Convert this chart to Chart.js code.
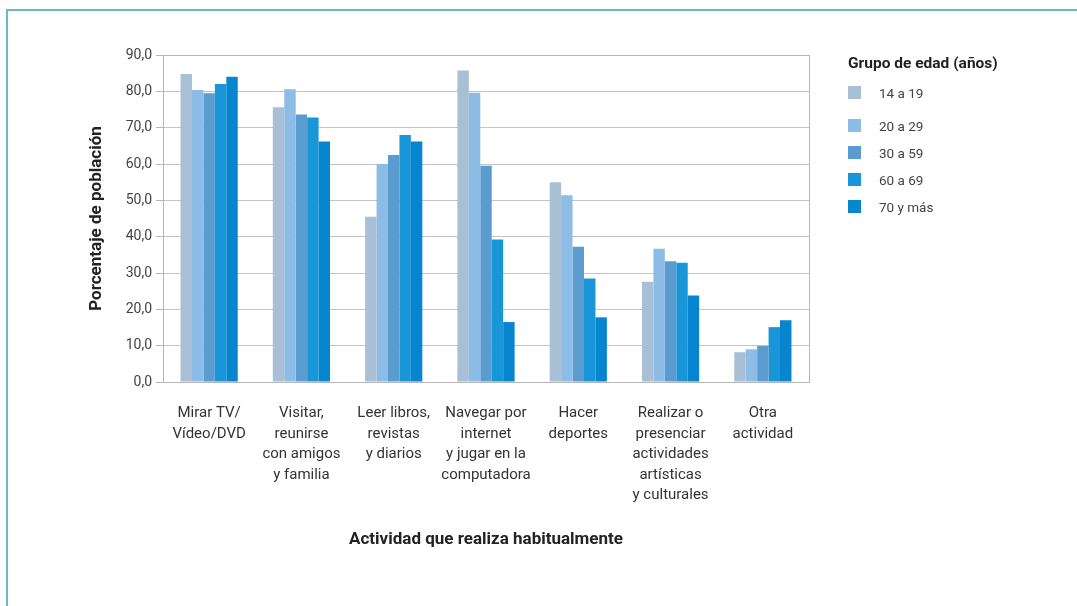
<!DOCTYPE html>
<html>
<head>
<meta charset="utf-8">
<script src="https://cdn.jsdelivr.net/npm/chart.js@4.4.1/dist/chart.umd.min.js"></script>
<style>
  html, body { margin: 0; padding: 0; background: #fff; }
  #wrap { position: relative; width: 1077px; height: 606px; overflow: hidden; }
  #frame { position: absolute; left: 6px; top: 9px; right: -10px; bottom: -10px;
           border-top: 2px solid #6cb9c5; border-left: 2px solid #6cb9c5; }
  #chart { position: absolute; left: 0; top: 0; }
  #legend { position: absolute; left: 848px; top: 54px; font-family: Roboto, sans-serif; }
  #legend .title { font-weight: bold; font-size: 15.5px; color: #222; margin-bottom: 14px; }
  #legend .item { display: flex; align-items: center; height: 13px; margin-bottom: 14px;
                  font-size: 13.5px; color: #444; }
  #legend .box { width: 13px; height: 13px; margin-right: 18px; }
</style>
</head>
<body>
<div id="wrap">
  <div id="frame"></div>
  <canvas id="chart" width="1077" height="606"></canvas>
  <div id="legend"></div>
</div>
<script>
document.addEventListener("DOMContentLoaded", () => {

    // ========= Datos =========

    const categorias = [
        ["Mirar TV/", "Vídeo/DVD"],
        ["Visitar,", "reunirse", "con amigos", "y familia"],
        ["Leer libros,", "revistas", "y diarios"],
        ["Navegar por", "internet", "y jugar en la", "computadora"],
        ["Hacer", "deportes"],
        ["Realizar o", "presenciar", "actividades", "artísticas", "y culturales"],
        ["Otra", "actividad"]
    ];

    const grupos = ["14 a 19", "20 a 29", "30 a 59", "60 a 69", "70 y más"];
    const colores = ["#a9bfd6", "#8dbde6", "#5a9ccf", "#1896d7", "#0786cf"];

    const edad14a19 = [84.8, 75.6, 45.5, 85.7, 55.0, 27.6, 8.2];
    const edad20a29 = [80.4, 80.6, 60.0, 79.6, 51.4, 36.7, 9.0];
    const edad30a59 = [79.5, 73.6, 62.5, 59.5, 37.2, 33.2, 9.9];
    const edad60a69 = [82.0, 72.8, 68.0, 39.2, 28.5, 32.8, 15.1];
    const edad70ymas = [84.0, 66.2, 66.2, 16.5, 17.8, 23.8, 17.0];

    const series = [edad14a19, edad20a29, edad30a59, edad60a69, edad70ymas];

    const ticksY = [0, 10, 20, 30, 40, 50, 60, 70, 80, 90];

    // ========= Leyenda =========

    const legend = document.getElementById("legend");
    let html = '<div class="title">Grupo de edad (años)</div>';
    grupos.forEach((g, i) => {
        const extra = i === 0 ? ' style="margin-bottom:20px"' : '';
        html += '<div class="item"' + extra + '><span class="box" style="background:' + colores[i] + '"></span>' + g + '</div>';
    });
    legend.innerHTML = html;

    // ========= Borde del área =========

    const plotBorder = {
        id: "plotBorder",
        afterDraw(chart) {
            const { ctx, chartArea: a } = chart;
            ctx.save();
            ctx.strokeStyle = "#b5b5b5";
            ctx.lineWidth = 1;
            ctx.strokeRect(a.left + 0.5, a.top + 0.5, a.right - a.left, a.bottom - a.top);
            ctx.restore();
        }
    };

    const canvas = document.getElementById("chart");

    new Chart(canvas, {
        type: "bar",
        data: {
            labels: categorias,
            datasets: series.map((vals, i) => ({
                label: grupos[i],
                data: vals,
                backgroundColor: colores[i],
                borderWidth: 0,
                categoryPercentage: 0.62,
                barPercentage: 1.0
            }))
        },
        options: {
            responsive: false,
            animation: false,
            layout: { padding: { left: 83, top: 55, right: 268, bottom: 52 } },
            plugins: {
                legend: { display: false },
                tooltip: { enabled: false }
            },
            scales: {
                x: {
                    grid: { display: false },
                    border: { display: true, color: "#b5b5b5" },
                    ticks: {
                        color: "#333",
                        padding: 13,
                        maxRotation: 0,
                        autoSkip: false,
                        font: { family: "Roboto", size: 15, lineHeight: 1.37 }
                    },
                    title: {
                        display: true,
                        text: "Actividad que realiza habitualmente",
                        color: "#222",
                        font: { family: "Roboto", size: 17, weight: "bold" },
                        padding: { top: 4, bottom: 4 }
                    },
                    afterFit(scale) { scale.height = 606 - 382 - 52; }
                },
                y: {
                    min: 0,
                    max: 90,
                    afterBuildTicks(scale) { scale.ticks = ticksY.map(v => ({ value: v })); },
                    grid: { color: "#c4c4c4", tickLength: 7, tickColor: "#b5b5b5" },
                    border: { display: true, color: "#b5b5b5" },
                    ticks: {
                        color: "#444",
                        padding: 4,
                        font: { family: "Roboto", size: 14 },
                        callback: v => v.toFixed(1).replace(".", ",")
                    },
                    title: {
                        display: true,
                        text: "Porcentaje de población",
                        color: "#222",
                        font: { family: "Roboto", size: 17, weight: "bold" },
                        padding: { top: 4, bottom: 4 }
                    },
                    afterFit(scale) { scale.width = 80; }
                }
            }
        },
        plugins: [plotBorder]
    });
});
</script>
</body>
</html>
